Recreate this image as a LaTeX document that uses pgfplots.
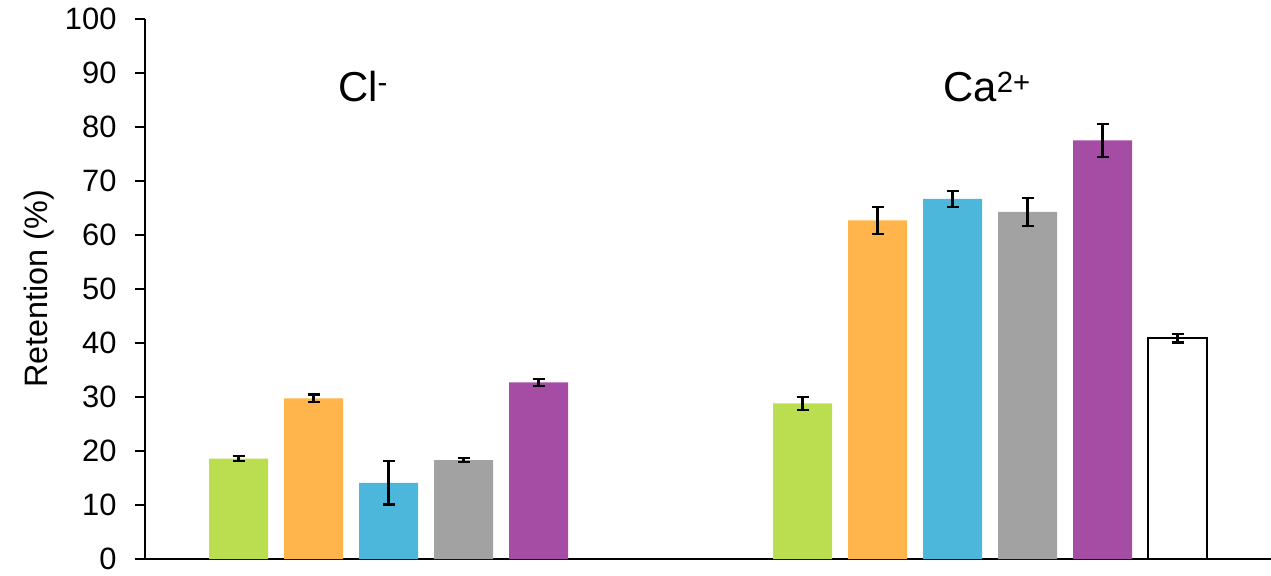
\documentclass[border=0pt]{standalone}
\usepackage{pgfplots}
\pgfplotsset{compat=1.18}
\usepackage{fontspec}
\setmainfont{Liberation Sans}
\definecolor{cgreen}{RGB}{187,221,80}
\definecolor{corange}{RGB}{255,181,76}
\definecolor{cblue}{RGB}{76,182,219}
\definecolor{cgray}{RGB}{162,162,162}
\definecolor{cpurple}{RGB}{165,76,165}
\begin{document}
\begin{tikzpicture}
\useasboundingbox (0,0) rectangle (1271bp,576bp);
\begin{axis}[
  at={(145bp,17bp)}, anchor=south west,
  scale only axis, width=1126bp, height=540bp,
  xmin=145, xmax=1271, ymin=0, ymax=100,
  axis x line*=bottom, axis y line*=left,
  axis line style={line width=2.5bp, black, -},
  xtick=\empty,
  ytick={0,10,...,100},
  tick align=outside,
  major tick length=10bp,
  ytick style={line width=2.5bp, black},
  /pgf/number format/assume math mode=true,
  yticklabel style={font=\fontsize{31}{36}\selectfont, text=black, xshift=-15bp},
  ylabel={Retention (\%)},
  ylabel style={font=\fontsize{32.5}{38}\selectfont, at={(axis description cs:-0.0941,0.5)}, anchor=center, rotate=0},
  ybar, bar width=59, bar shift=0,
  clip=false,
  error bars/y dir=both, error bars/y explicit,
  error bars/error bar style={line width=2.2bp, black},
  error bars/error mark options={rotate=90, mark size=6bp, line width=2.2bp, black},
]
\addplot[fill=cgreen, draw=none] coordinates {(238.5,18.6) +- (0,0.4) (802.5,28.8) +- (0,1.2)};
\addplot[fill=corange, draw=none] coordinates {(313.5,29.75) +- (0,0.7) (877.5,62.7) +- (0,2.5)};
\addplot[fill=cblue, draw=none] coordinates {(388.5,14.1) +- (0,4.0) (952.5,66.7) +- (0,1.5)};
\addplot[fill=cgray, draw=none] coordinates {(463.5,18.3) +- (0,0.4) (1027.5,64.3) +- (0,2.6)};
\addplot[fill=cpurple, draw=none] coordinates {(538.5,32.7) +- (0,0.7) (1102.5,77.5) +- (0,3.1)};
\addplot[fill=white, draw=black, line width=2.2bp] coordinates {(613.5,0) +- (0,0) (1177.5,40.9) +- (0,0.8)};
\node[anchor=base, font=\fontsize{42}{50}\selectfont] at (axis cs:363,84.8) {Cl\textsuperscript{-}};
\node[anchor=base, font=\fontsize{42}{50}\selectfont] at (axis cs:987,84.8) {Ca\textsuperscript{2+}};
\end{axis}
\end{tikzpicture}
\end{document}
